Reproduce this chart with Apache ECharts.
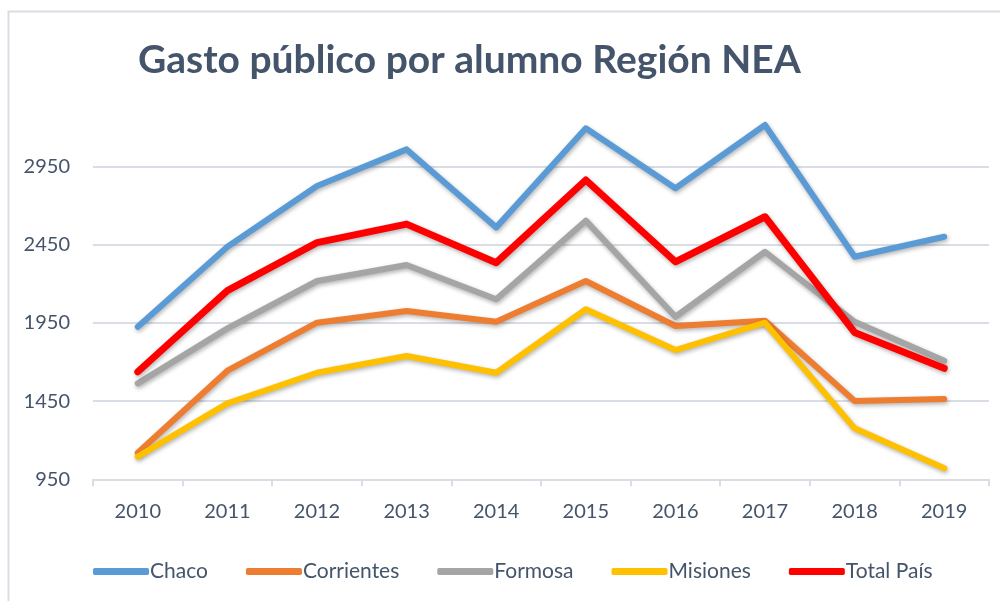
<!DOCTYPE html>
<html>
<head>
<meta charset="utf-8">
<script src="https://cdn.jsdelivr.net/npm/echarts@6/dist/echarts.min.js"></script>
<style>
  html, body { margin: 0; padding: 0; background: #fff; }
  #chart { width: 1000px; height: 601px; }
</style>
</head>
<body>
<div id="chart"></div>
<script>
var years = ['2010', '2011', '2012', '2013', '2014', '2015', '2016', '2017', '2018', '2019']
var yTicks = [950, 1450, 1950, 2450, 2950]

var chaco = [1926, 2438, 2827, 3061, 2562, 3196, 2812, 3217, 2374, 2502]
var corrientes = [1120, 1645, 1952, 2027, 1958, 2219, 1931, 1965, 1451, 1464]
var formosa = [1564, 1916, 2219, 2321, 2102, 2605, 1990, 2406, 1958, 1709]
var misiones = [1095, 1436, 1632, 1739, 1632, 2038, 1777, 1952, 1276, 1020]
var totalPais = [1638, 2157, 2464, 2583, 2336, 2865, 2342, 2630, 1890, 1660]

var seriesList = [
  { name: 'Chaco', data: chaco, color: '#5B9BD5', width: 6 },
  { name: 'Corrientes', data: corrientes, color: '#ED7D31', width: 6 },
  { name: 'Formosa', data: formosa, color: '#A5A5A5', width: 6 },
  { name: 'Misiones', data: misiones, color: '#FFC000', width: 6 },
  { name: 'Total País', data: totalPais, color: '#FF0000', width: 7 }
]

var textColor = '#44546A'
var gridColor = '#D9DEE6'
var font = 'Lato'

var chart = echarts.init(document.getElementById('chart'), null, { renderer: 'canvas' })

var option = {
  backgroundColor: '#fff',
  animation: false,
  title: {
    text: 'Gasto público por alumno Región NEA',
    left: 133,
    top: 36,
    textStyle: { color: textColor, fontFamily: font, fontWeight: 'bold', fontSize: 39 }
  },
  graphic: [{
    type: 'rect',
    shape: { x: 8.5, y: 11.5, width: 1000, height: 600 },
    style: { fill: 'none', stroke: gridColor, lineWidth: 2 },
    silent: true
  }],
  legend: {
    bottom: 14,
    left: 88,
    itemWidth: 56,
    itemHeight: 7,
    itemGap: 38,
    icon: 'roundRect',
    textStyle: { color: textColor, fontFamily: font, fontSize: 21, padding: [0, 0, 0, -4] },
    data: seriesList.map(function (s) { return s.name })
  },
  grid: { left: 93, right: 11, top: 88.6, bottom: 121.7 },
  xAxis: {
    type: 'category',
    data: years,
    boundaryGap: true,
    axisLine: { lineStyle: { color: gridColor, width: 2 } },
    axisTick: { show: true, length: 7, lineStyle: { color: gridColor, width: 2 } },
    axisLabel: { color: textColor, fontFamily: font, fontSize: 20, margin: 22 }
  },
  yAxis: {
    type: 'value',
    min: 950,
    max: 3450,
    axisLine: { show: false },
    axisTick: { show: false, customValues: yTicks },
    axisLabel: {
      color: textColor, fontFamily: font, fontSize: 20, margin: 23, customValues: yTicks,
      formatter: function (v) { return String(v) }
    },
    splitLine: { lineStyle: { color: gridColor, width: 2 } }
  },
  series: seriesList.map(function (s) {
    return {
      name: s.name,
      type: 'line',
      data: s.data,
      symbol: 'none',
      color: s.color,
      lineStyle: {
        color: s.color,
        width: s.width,
        cap: 'round',
        join: 'round',
        shadowColor: 'rgba(0,0,0,0.3)',
        shadowBlur: 4,
        shadowOffsetX: 1,
        shadowOffsetY: 2
      }
    }
  })
}

chart.setOption(option)
</script>
</body>
</html>
